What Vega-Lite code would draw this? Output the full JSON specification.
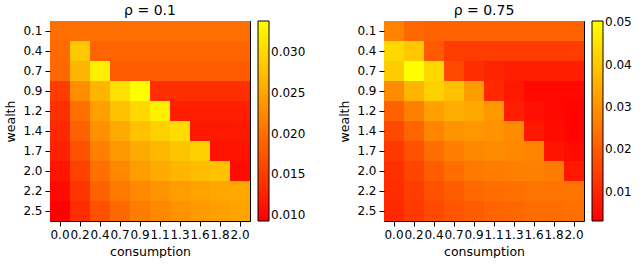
{
"$schema": "https://vega.github.io/schema/vega-lite/v6.json",
"padding": {"left": 4, "top": 3, "right": 0, "bottom": 0},
"config": {
 "font": "DejaVu Sans",
 "view": {"stroke": "black", "strokeWidth": 1},
 "axis": {"labelFont": "DejaVu Sans", "labelFontSize": 12, "labelColor": "black", "titleFont": "DejaVu Sans", "titleFontSize": 12.5, "titleFontWeight": "normal", "titleColor": "black", "domain": false, "tickColor": "black", "tickSize": 5, "labelPadding": 3, "titlePadding": 5},
 "legend": {"labelFont": "DejaVu Sans", "labelFontSize": 12, "labelColor": "black", "gradientStrokeColor": "black", "gradientStrokeWidth": 1, "gradientLength": 200, "gradientThickness": 11, "offset": 8, "labelOverlap": false, "direction": "vertical", "labelOffset": 6},
 "title": {"font": "DejaVu Sans", "fontSize": 14, "fontWeight": "normal", "color": "black", "offset": 3},
 "concat": {"spacing": 31}
},
"data": {"values": [
{"rho":0.1,"wealth":"0.1","consumption":"0.0","value":0.0199},{"rho":0.1,"wealth":"0.1","consumption":"0.2","value":0.0199},{"rho":0.1,"wealth":"0.1","consumption":"0.4","value":0.0199},{"rho":0.1,"wealth":"0.1","consumption":"0.7","value":0.0199},{"rho":0.1,"wealth":"0.1","consumption":"0.9","value":0.0199},{"rho":0.1,"wealth":"0.1","consumption":"1.1","value":0.0199},{"rho":0.1,"wealth":"0.1","consumption":"1.3","value":0.0199},{"rho":0.1,"wealth":"0.1","consumption":"1.6","value":0.0199},{"rho":0.1,"wealth":"0.1","consumption":"1.8","value":0.0199},{"rho":0.1,"wealth":"0.1","consumption":"2.0","value":0.0199},
{"rho":0.1,"wealth":"0.4","consumption":"0.0","value":0.0195},{"rho":0.1,"wealth":"0.4","consumption":"0.2","value":0.0285},{"rho":0.1,"wealth":"0.4","consumption":"0.4","value":0.0189},{"rho":0.1,"wealth":"0.4","consumption":"0.7","value":0.0189},{"rho":0.1,"wealth":"0.4","consumption":"0.9","value":0.0189},{"rho":0.1,"wealth":"0.4","consumption":"1.1","value":0.0189},{"rho":0.1,"wealth":"0.4","consumption":"1.3","value":0.0189},{"rho":0.1,"wealth":"0.4","consumption":"1.6","value":0.0189},{"rho":0.1,"wealth":"0.4","consumption":"1.8","value":0.0189},{"rho":0.1,"wealth":"0.4","consumption":"2.0","value":0.0189},
{"rho":0.1,"wealth":"0.7","consumption":"0.0","value":0.0193},{"rho":0.1,"wealth":"0.7","consumption":"0.2","value":0.0266},{"rho":0.1,"wealth":"0.7","consumption":"0.4","value":0.0322},{"rho":0.1,"wealth":"0.7","consumption":"0.7","value":0.0179},{"rho":0.1,"wealth":"0.7","consumption":"0.9","value":0.0179},{"rho":0.1,"wealth":"0.7","consumption":"1.1","value":0.0179},{"rho":0.1,"wealth":"0.7","consumption":"1.3","value":0.0179},{"rho":0.1,"wealth":"0.7","consumption":"1.6","value":0.0179},{"rho":0.1,"wealth":"0.7","consumption":"1.8","value":0.0179},{"rho":0.1,"wealth":"0.7","consumption":"2.0","value":0.0179},
{"rho":0.1,"wealth":"0.9","consumption":"0.0","value":0.0151},{"rho":0.1,"wealth":"0.9","consumption":"0.2","value":0.0228},{"rho":0.1,"wealth":"0.9","consumption":"0.4","value":0.0266},{"rho":0.1,"wealth":"0.9","consumption":"0.7","value":0.0308},{"rho":0.1,"wealth":"0.9","consumption":"0.9","value":0.0338},{"rho":0.1,"wealth":"0.9","consumption":"1.1","value":0.0137},{"rho":0.1,"wealth":"0.9","consumption":"1.3","value":0.0137},{"rho":0.1,"wealth":"0.9","consumption":"1.6","value":0.0137},{"rho":0.1,"wealth":"0.9","consumption":"1.8","value":0.0137},{"rho":0.1,"wealth":"0.9","consumption":"2.0","value":0.0137},
{"rho":0.1,"wealth":"1.2","consumption":"0.0","value":0.0139},{"rho":0.1,"wealth":"1.2","consumption":"0.2","value":0.0201},{"rho":0.1,"wealth":"1.2","consumption":"0.4","value":0.0247},{"rho":0.1,"wealth":"1.2","consumption":"0.7","value":0.0278},{"rho":0.1,"wealth":"1.2","consumption":"0.9","value":0.0301},{"rho":0.1,"wealth":"1.2","consumption":"1.1","value":0.0324},{"rho":0.1,"wealth":"1.2","consumption":"1.3","value":0.0122},{"rho":0.1,"wealth":"1.2","consumption":"1.6","value":0.0122},{"rho":0.1,"wealth":"1.2","consumption":"1.8","value":0.0122},{"rho":0.1,"wealth":"1.2","consumption":"2.0","value":0.0122},
{"rho":0.1,"wealth":"1.4","consumption":"0.0","value":0.0131},{"rho":0.1,"wealth":"1.4","consumption":"0.2","value":0.0185},{"rho":0.1,"wealth":"1.4","consumption":"0.4","value":0.0231},{"rho":0.1,"wealth":"1.4","consumption":"0.7","value":0.0256},{"rho":0.1,"wealth":"1.4","consumption":"0.9","value":0.0278},{"rho":0.1,"wealth":"1.4","consumption":"1.1","value":0.0293},{"rho":0.1,"wealth":"1.4","consumption":"1.3","value":0.0304},{"rho":0.1,"wealth":"1.4","consumption":"1.6","value":0.0116},{"rho":0.1,"wealth":"1.4","consumption":"1.8","value":0.0116},{"rho":0.1,"wealth":"1.4","consumption":"2.0","value":0.0116},
{"rho":0.1,"wealth":"1.7","consumption":"0.0","value":0.0124},{"rho":0.1,"wealth":"1.7","consumption":"0.2","value":0.0170},{"rho":0.1,"wealth":"1.7","consumption":"0.4","value":0.0216},{"rho":0.1,"wealth":"1.7","consumption":"0.7","value":0.0239},{"rho":0.1,"wealth":"1.7","consumption":"0.9","value":0.0256},{"rho":0.1,"wealth":"1.7","consumption":"1.1","value":0.0270},{"rho":0.1,"wealth":"1.7","consumption":"1.3","value":0.0281},{"rho":0.1,"wealth":"1.7","consumption":"1.6","value":0.0293},{"rho":0.1,"wealth":"1.7","consumption":"1.8","value":0.0110},{"rho":0.1,"wealth":"1.7","consumption":"2.0","value":0.0110},
{"rho":0.1,"wealth":"2.0","consumption":"0.0","value":0.0112},{"rho":0.1,"wealth":"2.0","consumption":"0.2","value":0.0155},{"rho":0.1,"wealth":"2.0","consumption":"0.4","value":0.0201},{"rho":0.1,"wealth":"2.0","consumption":"0.7","value":0.0224},{"rho":0.1,"wealth":"2.0","consumption":"0.9","value":0.0243},{"rho":0.1,"wealth":"2.0","consumption":"1.1","value":0.0256},{"rho":0.1,"wealth":"2.0","consumption":"1.3","value":0.0266},{"rho":0.1,"wealth":"2.0","consumption":"1.6","value":0.0274},{"rho":0.1,"wealth":"2.0","consumption":"1.8","value":0.0278},{"rho":0.1,"wealth":"2.0","consumption":"2.0","value":0.0105},
{"rho":0.1,"wealth":"2.2","consumption":"0.0","value":0.0103},{"rho":0.1,"wealth":"2.2","consumption":"0.2","value":0.0143},{"rho":0.1,"wealth":"2.2","consumption":"0.4","value":0.0185},{"rho":0.1,"wealth":"2.2","consumption":"0.7","value":0.0208},{"rho":0.1,"wealth":"2.2","consumption":"0.9","value":0.0224},{"rho":0.1,"wealth":"2.2","consumption":"1.1","value":0.0235},{"rho":0.1,"wealth":"2.2","consumption":"1.3","value":0.0243},{"rho":0.1,"wealth":"2.2","consumption":"1.6","value":0.0249},{"rho":0.1,"wealth":"2.2","consumption":"1.8","value":0.0253},{"rho":0.1,"wealth":"2.2","consumption":"2.0","value":0.0254},
{"rho":0.1,"wealth":"2.5","consumption":"0.0","value":0.0093},{"rho":0.1,"wealth":"2.5","consumption":"0.2","value":0.0135},{"rho":0.1,"wealth":"2.5","consumption":"0.4","value":0.0170},{"rho":0.1,"wealth":"2.5","consumption":"0.7","value":0.0193},{"rho":0.1,"wealth":"2.5","consumption":"0.9","value":0.0212},{"rho":0.1,"wealth":"2.5","consumption":"1.1","value":0.0224},{"rho":0.1,"wealth":"2.5","consumption":"1.3","value":0.0233},{"rho":0.1,"wealth":"2.5","consumption":"1.6","value":0.0241},{"rho":0.1,"wealth":"2.5","consumption":"1.8","value":0.0247},{"rho":0.1,"wealth":"2.5","consumption":"2.0","value":0.0251},
{"rho":0.75,"wealth":"0.1","consumption":"0.0","value":0.0272},{"rho":0.75,"wealth":"0.1","consumption":"0.2","value":0.0223},{"rho":0.75,"wealth":"0.1","consumption":"0.4","value":0.0212},{"rho":0.75,"wealth":"0.1","consumption":"0.7","value":0.0212},{"rho":0.75,"wealth":"0.1","consumption":"0.9","value":0.0212},{"rho":0.75,"wealth":"0.1","consumption":"1.1","value":0.0212},{"rho":0.75,"wealth":"0.1","consumption":"1.3","value":0.0212},{"rho":0.75,"wealth":"0.1","consumption":"1.6","value":0.0212},{"rho":0.75,"wealth":"0.1","consumption":"1.8","value":0.0212},{"rho":0.75,"wealth":"0.1","consumption":"2.0","value":0.0212},
{"rho":0.75,"wealth":"0.4","consumption":"0.0","value":0.0431},{"rho":0.75,"wealth":"0.4","consumption":"0.2","value":0.0401},{"rho":0.75,"wealth":"0.4","consumption":"0.4","value":0.0198},{"rho":0.75,"wealth":"0.4","consumption":"0.7","value":0.0142},{"rho":0.75,"wealth":"0.4","consumption":"0.9","value":0.0142},{"rho":0.75,"wealth":"0.4","consumption":"1.1","value":0.0142},{"rho":0.75,"wealth":"0.4","consumption":"1.3","value":0.0142},{"rho":0.75,"wealth":"0.4","consumption":"1.6","value":0.0142},{"rho":0.75,"wealth":"0.4","consumption":"1.8","value":0.0142},{"rho":0.75,"wealth":"0.4","consumption":"2.0","value":0.0142},
{"rho":0.75,"wealth":"0.7","consumption":"0.0","value":0.0408},{"rho":0.75,"wealth":"0.7","consumption":"0.2","value":0.0503},{"rho":0.75,"wealth":"0.7","consumption":"0.4","value":0.0431},{"rho":0.75,"wealth":"0.7","consumption":"0.7","value":0.0164},{"rho":0.75,"wealth":"0.7","consumption":"0.9","value":0.0112},{"rho":0.75,"wealth":"0.7","consumption":"1.1","value":0.0098},{"rho":0.75,"wealth":"0.7","consumption":"1.3","value":0.0087},{"rho":0.75,"wealth":"0.7","consumption":"1.6","value":0.0087},{"rho":0.75,"wealth":"0.7","consumption":"1.8","value":0.0087},{"rho":0.75,"wealth":"0.7","consumption":"2.0","value":0.0087},
{"rho":0.75,"wealth":"0.9","consumption":"0.0","value":0.0290},{"rho":0.75,"wealth":"0.9","consumption":"0.2","value":0.0364},{"rho":0.75,"wealth":"0.9","consumption":"0.4","value":0.0416},{"rho":0.75,"wealth":"0.9","consumption":"0.7","value":0.0386},{"rho":0.75,"wealth":"0.9","consumption":"0.9","value":0.0320},{"rho":0.75,"wealth":"0.9","consumption":"1.1","value":0.0105},{"rho":0.75,"wealth":"0.9","consumption":"1.3","value":0.0075},{"rho":0.75,"wealth":"0.9","consumption":"1.6","value":0.0046},{"rho":0.75,"wealth":"0.9","consumption":"1.8","value":0.0046},{"rho":0.75,"wealth":"0.9","consumption":"2.0","value":0.0046},
{"rho":0.75,"wealth":"1.2","consumption":"0.0","value":0.0209},{"rho":0.75,"wealth":"1.2","consumption":"0.2","value":0.0268},{"rho":0.75,"wealth":"1.2","consumption":"0.4","value":0.0327},{"rho":0.75,"wealth":"1.2","consumption":"0.7","value":0.0349},{"rho":0.75,"wealth":"1.2","consumption":"0.9","value":0.0342},{"rho":0.75,"wealth":"1.2","consumption":"1.1","value":0.0312},{"rho":0.75,"wealth":"1.2","consumption":"1.3","value":0.0087},{"rho":0.75,"wealth":"1.2","consumption":"1.6","value":0.0061},{"rho":0.75,"wealth":"1.2","consumption":"1.8","value":0.0046},{"rho":0.75,"wealth":"1.2","consumption":"2.0","value":0.0038},
{"rho":0.75,"wealth":"1.4","consumption":"0.0","value":0.0164},{"rho":0.75,"wealth":"1.4","consumption":"0.2","value":0.0216},{"rho":0.75,"wealth":"1.4","consumption":"0.4","value":0.0275},{"rho":0.75,"wealth":"1.4","consumption":"0.7","value":0.0305},{"rho":0.75,"wealth":"1.4","consumption":"0.9","value":0.0312},{"rho":0.75,"wealth":"1.4","consumption":"1.1","value":0.0305},{"rho":0.75,"wealth":"1.4","consumption":"1.3","value":0.0290},{"rho":0.75,"wealth":"1.4","consumption":"1.6","value":0.0075},{"rho":0.75,"wealth":"1.4","consumption":"1.8","value":0.0053},{"rho":0.75,"wealth":"1.4","consumption":"2.0","value":0.0038},
{"rho":0.75,"wealth":"1.7","consumption":"0.0","value":0.0135},{"rho":0.75,"wealth":"1.7","consumption":"0.2","value":0.0179},{"rho":0.75,"wealth":"1.7","consumption":"0.4","value":0.0231},{"rho":0.75,"wealth":"1.7","consumption":"0.7","value":0.0268},{"rho":0.75,"wealth":"1.7","consumption":"0.9","value":0.0283},{"rho":0.75,"wealth":"1.7","consumption":"1.1","value":0.0290},{"rho":0.75,"wealth":"1.7","consumption":"1.3","value":0.0283},{"rho":0.75,"wealth":"1.7","consumption":"1.6","value":0.0275},{"rho":0.75,"wealth":"1.7","consumption":"1.8","value":0.0068},{"rho":0.75,"wealth":"1.7","consumption":"2.0","value":0.0053},
{"rho":0.75,"wealth":"2.0","consumption":"0.0","value":0.0120},{"rho":0.75,"wealth":"2.0","consumption":"0.2","value":0.0157},{"rho":0.75,"wealth":"2.0","consumption":"0.4","value":0.0201},{"rho":0.75,"wealth":"2.0","consumption":"0.7","value":0.0231},{"rho":0.75,"wealth":"2.0","consumption":"0.9","value":0.0253},{"rho":0.75,"wealth":"2.0","consumption":"1.1","value":0.0260},{"rho":0.75,"wealth":"2.0","consumption":"1.3","value":0.0268},{"rho":0.75,"wealth":"2.0","consumption":"1.6","value":0.0268},{"rho":0.75,"wealth":"2.0","consumption":"1.8","value":0.0260},{"rho":0.75,"wealth":"2.0","consumption":"2.0","value":0.0075},
{"rho":0.75,"wealth":"2.2","consumption":"0.0","value":0.0112},{"rho":0.75,"wealth":"2.2","consumption":"0.2","value":0.0142},{"rho":0.75,"wealth":"2.2","consumption":"0.4","value":0.0179},{"rho":0.75,"wealth":"2.2","consumption":"0.7","value":0.0201},{"rho":0.75,"wealth":"2.2","consumption":"0.9","value":0.0223},{"rho":0.75,"wealth":"2.2","consumption":"1.1","value":0.0231},{"rho":0.75,"wealth":"2.2","consumption":"1.3","value":0.0238},{"rho":0.75,"wealth":"2.2","consumption":"1.6","value":0.0246},{"rho":0.75,"wealth":"2.2","consumption":"1.8","value":0.0246},{"rho":0.75,"wealth":"2.2","consumption":"2.0","value":0.0246},
{"rho":0.75,"wealth":"2.5","consumption":"0.0","value":0.0105},{"rho":0.75,"wealth":"2.5","consumption":"0.2","value":0.0135},{"rho":0.75,"wealth":"2.5","consumption":"0.4","value":0.0164},{"rho":0.75,"wealth":"2.5","consumption":"0.7","value":0.0186},{"rho":0.75,"wealth":"2.5","consumption":"0.9","value":0.0201},{"rho":0.75,"wealth":"2.5","consumption":"1.1","value":0.0216},{"rho":0.75,"wealth":"2.5","consumption":"1.3","value":0.0223},{"rho":0.75,"wealth":"2.5","consumption":"1.6","value":0.0231},{"rho":0.75,"wealth":"2.5","consumption":"1.8","value":0.0231},{"rho":0.75,"wealth":"2.5","consumption":"2.0","value":0.0238}
]},
"hconcat": [
 {
  "title": "ρ = 0.1",
  "width": 200, "height": 200,
  "transform": [{"filter": "datum.rho == 0.1"}],
  "mark": {"type": "rect"},
  "encoding": {
   "x": {"field": "consumption", "type": "ordinal", "sort": ["0.0","0.2","0.4","0.7","0.9","1.1","1.3","1.6","1.8","2.0"], "title": "consumption", "axis": {"labelAngle": 0}},
   "y": {"field": "wealth", "type": "ordinal", "sort": ["0.1","0.4","0.7","0.9","1.2","1.4","1.7","2.0","2.2","2.5"], "title": "wealth"},
   "color": {"field": "value", "type": "quantitative", "scale": {"domain": [0.0093, 0.0338], "range": ["#ff0000", "#ffff00"], "interpolate": "rgb"}, "legend": {"title": null, "values": [0.010, 0.015, 0.020, 0.025, 0.030], "format": ".3f"}}
  }
 },
 {
  "title": "ρ = 0.75",
  "width": 200, "height": 200,
  "transform": [{"filter": "datum.rho == 0.75"}],
  "mark": {"type": "rect"},
  "encoding": {
   "x": {"field": "consumption", "type": "ordinal", "sort": ["0.0","0.2","0.4","0.7","0.9","1.1","1.3","1.6","1.8","2.0"], "title": "consumption", "axis": {"labelAngle": 0}},
   "y": {"field": "wealth", "type": "ordinal", "sort": ["0.1","0.4","0.7","0.9","1.2","1.4","1.7","2.0","2.2","2.5"], "title": "wealth"},
   "color": {"field": "value", "type": "quantitative", "scale": {"domain": [0.0031, 0.0503], "range": ["#ff0000", "#ffff00"], "interpolate": "rgb"}, "legend": {"title": null, "values": [0.01, 0.02, 0.03, 0.04, 0.05], "format": ".2f"}}
  }
 }
],
"resolve": {"scale": {"color": "independent"}}
}
